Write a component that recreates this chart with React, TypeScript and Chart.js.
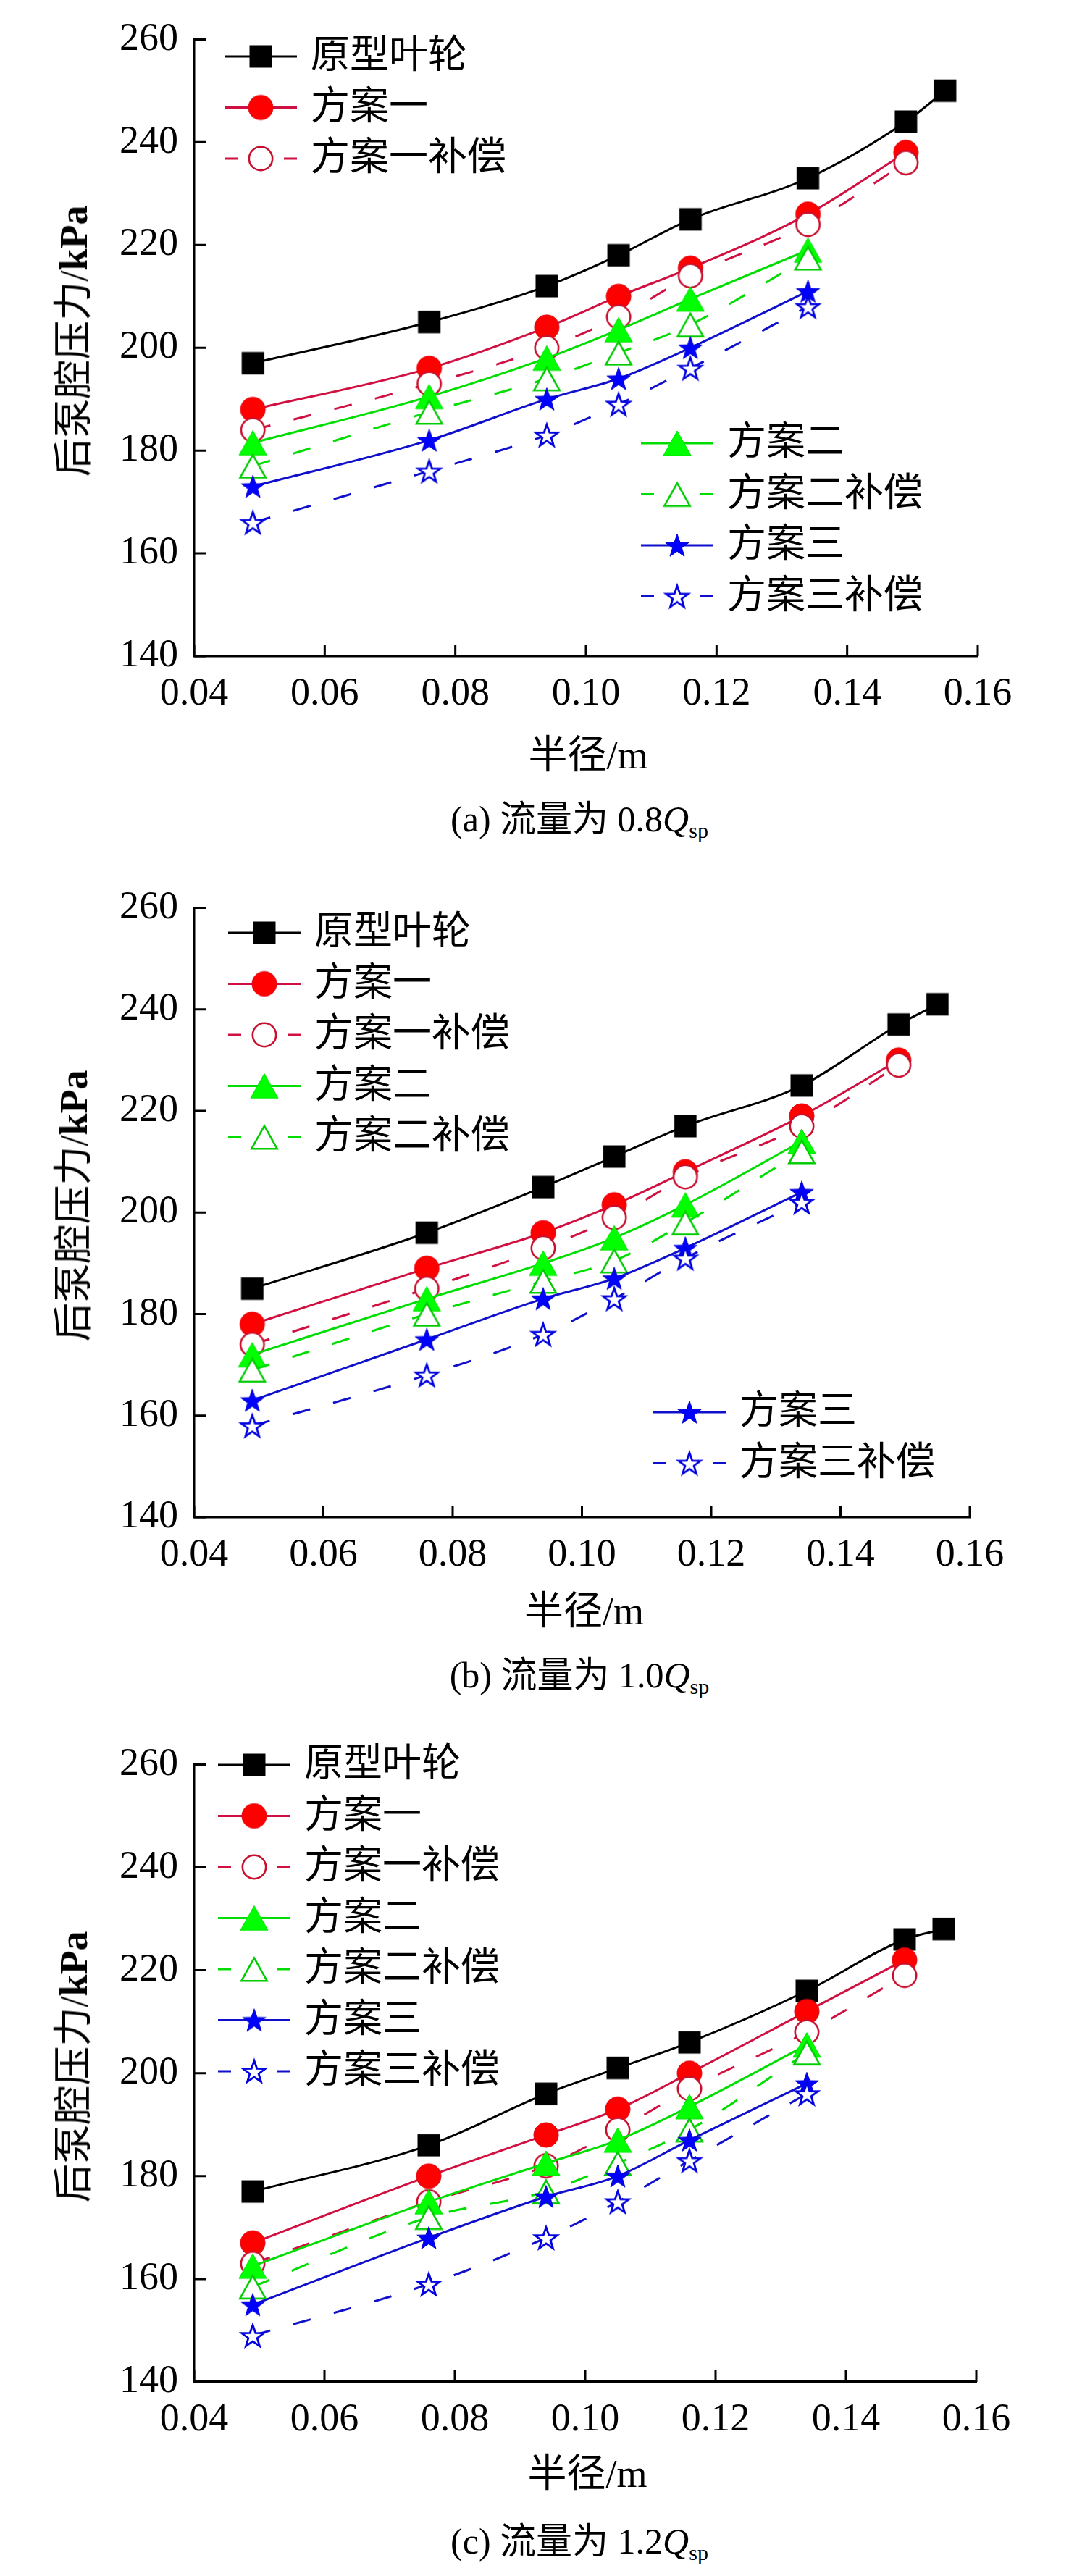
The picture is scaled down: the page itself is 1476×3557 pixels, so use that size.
import { useEffect, useRef } from "react";
import { Chart, registerables, type ChartConfiguration, type Plugin } from "chart.js";

Chart.register(...registerables);

// 半径 (m)，各方案测点
const RADIUS_M = [0.049, 0.076, 0.094, 0.105, 0.116, 0.134, 0.149, 0.155];
const X_TICKS = [0.04, 0.06, 0.08, 0.1, 0.12, 0.14, 0.16];
const Y_TICKS = [140, 160, 180, 200, 220, 240, 260];
const SERIES_NAMES = ["原型叶轮", "方案一", "方案一补偿", "方案二", "方案二补偿", "方案三", "方案三补偿"];

// (a) 0.8Qsp
const A_ORIGINAL = [197, 205, 212, 218, 225, 233, 244, 250];
const A_PLAN1 = [188, 196, 204, 210, 215.5, 226, 238];
const A_PLAN1_COMP = [184, 193, 200, 206, 214, 224, 236];
const A_PLAN2 = [181.5, 190.5, 198, 203.5, 209.5, 219];
const A_PLAN2_COMP = [177, 187.5, 194, 199, 204.5, 217.5];
const A_PLAN3 = [173, 182, 190, 194, 200, 211];
const A_PLAN3_COMP = [166, 176, 183, 189, 196, 208];

// (b) 1.0Qsp
const B_ORIGINAL = [185, 196, 205, 211, 217, 225, 237, 241];
const B_PLAN1 = [178, 189, 196, 201.5, 208, 219, 230];
const B_PLAN1_COMP = [174, 185, 193, 199, 207, 217, 229];
const B_PLAN2 = [172, 183, 190, 195, 201.5, 214];
const B_PLAN2_COMP = [169, 180, 186.5, 190.5, 198, 212];
const B_PLAN3 = [163, 175, 183, 187, 193, 204];
const B_PLAN3_COMP = [158, 168, 176, 183, 191, 202];

// (c) 1.2Qsp
const C_ORIGINAL = [177, 186, 196, 201, 206, 216, 226, 228];
const C_PLAN1 = [167, 180, 188, 193, 200, 212, 222];
const C_PLAN1_COMP = [163, 175, 182, 189, 197, 208, 219];
const C_PLAN2 = [162.5, 175, 182.5, 187, 193.5, 205.5];
const C_PLAN2_COMP = [158.5, 172, 177, 182.5, 189, 204];
const C_PLAN3 = [155, 168, 176, 180, 187, 198];
const C_PLAN3_COMP = [149, 159, 168, 175, 183, 196];

const SERIF = "'Liberation Serif', 'Times New Roman', 'Noto Sans CJK SC', serif";
const W = 1476;
const PLOT_TOP = 34;
const PLOT_LEFT = 268;
const X_AXIS_H = 86;
const ROW_GAP = 70.5;

type Legend = { x: number; y: number; items: number[] };
type Panel = {
  tag: string;
  flow: string;
  series: number[][];
  legends: Legend[];
  // 版面位置
  top: number;
  plotRight: number;
  plotBottom: number;
  xTitleY: number;
  captionY: number;
};

const PANELS: Panel[] = [
  {
    tag: "(a)",
    flow: "0.8",
    series: [A_ORIGINAL, A_PLAN1, A_PLAN1_COMP, A_PLAN2, A_PLAN2_COMP, A_PLAN3, A_PLAN3_COMP],
    legends: [
      { x: 310, y: 78, items: [0, 1, 2] },
      { x: 885, y: 612, items: [3, 4, 5, 6] },
    ],
    top: 0,
    plotRight: 1350,
    plotBottom: 906,
    xTitleY: 1043,
    captionY: 1134,
  },
  {
    tag: "(b)",
    flow: "1.0",
    series: [B_ORIGINAL, B_PLAN1, B_PLAN1_COMP, B_PLAN2, B_PLAN2_COMP, B_PLAN3, B_PLAN3_COMP],
    legends: [
      { x: 315, y: 89, items: [0, 1, 2, 3, 4] },
      { x: 902, y: 751, items: [5, 6] },
    ],
    top: 1199,
    plotRight: 1339,
    plotBottom: 896,
    xTitleY: 1026,
    captionY: 1117,
  },
  {
    tag: "(c)",
    flow: "1.2",
    series: [C_ORIGINAL, C_PLAN1, C_PLAN1_COMP, C_PLAN2, C_PLAN2_COMP, C_PLAN3, C_PLAN3_COMP],
    legends: [{ x: 301, y: 55, items: [0, 1, 2, 3, 4, 5, 6] }],
    top: 2382,
    plotRight: 1348,
    plotBottom: 907,
    xTitleY: 1034,
    captionY: 1130,
  },
];

type MarkerKind = "square" | "circle" | "triangle" | "star";

function makeMarker(kind: MarkerKind, fill: string, stroke: string, lw: number): HTMLCanvasElement {
  const size = 48;
  const c = document.createElement("canvas");
  c.width = size;
  c.height = size;
  const ctx = c.getContext("2d")!;
  ctx.translate(size / 2, size / 2);
  ctx.fillStyle = fill;
  ctx.strokeStyle = stroke;
  ctx.lineWidth = lw;
  ctx.lineJoin = "miter";
  ctx.beginPath();
  const h = lw / 2;
  if (kind === "square") {
    ctx.rect(-15.5 + h, -15.5 + h, 31 - lw, 31 - lw);
  } else if (kind === "circle") {
    ctx.arc(0, 0, 17.5 - h, 0, Math.PI * 2);
  } else if (kind === "triangle") {
    ctx.moveTo(0, -18 + h * 2);
    ctx.lineTo(20 - h * 1.8, 17.5 - h);
    ctx.lineTo(-20 + h * 1.8, 17.5 - h);
    ctx.closePath();
  } else {
    const R = 17.5 - h;
    const r = R * 0.4;
    for (let i = 0; i < 10; i++) {
      const a = -Math.PI / 2 + (i * Math.PI) / 5;
      const rad = i % 2 === 0 ? R : r;
      const px = Math.cos(a) * rad;
      const py = Math.sin(a) * rad + 1.5;
      if (i === 0) ctx.moveTo(px, py);
      else ctx.lineTo(px, py);
    }
    ctx.closePath();
  }
  ctx.fill();
  if (lw > 0) ctx.stroke();
  return c;
}

function buildStyles() {
  return [
    { line: "#000000", dash: [] as number[], marker: makeMarker("square", "#000000", "#000000", 0) },
    { line: "#d01040", dash: [], marker: makeMarker("circle", "#ff0000", "#e00010", 1) },
    { line: "#d01040", dash: [25, 33], marker: makeMarker("circle", "#ffffff", "#c8102e", 2.6) },
    { line: "#00dd00", dash: [], marker: makeMarker("triangle", "#00ff00", "#00e000", 1) },
    { line: "#00dd00", dash: [25, 33], marker: makeMarker("triangle", "#ffffff", "#00cc00", 2.6) },
    { line: "#1010cc", dash: [], marker: makeMarker("star", "#0000ff", "#0000cc", 1) },
    { line: "#1010cc", dash: [25, 33], marker: makeMarker("star", "#ffffff", "#0000e0", 2.8) },
  ];
}

// Origin 风格的朝内刻度
function inwardTicks(): Plugin<"line"> {
  return {
    id: "inwardTicks",
    afterDatasetsDraw(chart) {
      const { ctx, chartArea } = chart;
      const xs = chart.scales.x;
      const ys = chart.scales.y;
      ctx.save();
      ctx.strokeStyle = "#000";
      ctx.lineWidth = 3;
      ctx.beginPath();
      for (const t of xs.ticks) {
        const px = xs.getPixelForValue(t.value);
        ctx.moveTo(px, chartArea.bottom);
        ctx.lineTo(px, chartArea.bottom - 16);
      }
      for (const t of ys.ticks) {
        const py = ys.getPixelForValue(t.value);
        ctx.moveTo(chartArea.left, py);
        ctx.lineTo(chartArea.left + 16, py);
      }
      ctx.stroke();
      ctx.restore();
    },
  };
}

// 图例拆成几组，分别放在图内不同位置
function groupLegend(groups: Legend[]): Plugin<"line"> {
  return {
    id: "groupLegend",
    afterDraw(chart) {
      const ctx = chart.ctx;
      for (const g of groups) {
        g.items.forEach((idx, row) => {
          const ds: any = chart.data.datasets[idx];
          const y = g.y + row * ROW_GAP;
          ctx.save();
          ctx.strokeStyle = ds.borderColor;
          ctx.lineWidth = ds.borderWidth;
          ctx.setLineDash(ds.borderDash && ds.borderDash.length ? [18, 64] : []);
          ctx.beginPath();
          ctx.moveTo(g.x, y);
          ctx.lineTo(g.x + 100, y);
          ctx.stroke();
          ctx.setLineDash([]);
          const img = ds.pointStyle as HTMLCanvasElement;
          ctx.drawImage(img, g.x + 50 - img.width / 2, y - img.height / 2);
          ctx.fillStyle = "#000";
          ctx.font = `54px ${SERIF}`;
          ctx.textBaseline = "middle";
          ctx.fillText(ds.label, g.x + 119, y + 2);
          ctx.restore();
        });
      }
    },
  };
}

function PanelChart({ panel }: { panel: Panel }) {
  const canvasRef = useRef<HTMLCanvasElement>(null);
  const canvasH = panel.plotBottom + X_AXIS_H;

  useEffect(() => {
    if (!canvasRef.current) return;
    const styles = buildStyles();
    const config: ChartConfiguration<"line"> = {
      type: "line",
      data: {
        datasets: panel.series.map((values, i) => ({
          label: SERIES_NAMES[i],
          data: values.map((v, j) => ({ x: RADIUS_M[j], y: v })),
          borderColor: styles[i].line,
          borderWidth: 3,
          borderDash: styles[i].dash,
          pointStyle: styles[i].marker,
          pointRadius: 18,
          cubicInterpolationMode: "monotone" as const,
          fill: false,
          order: 10 - i,
        })),
      },
      options: {
        animation: false,
        responsive: false,
        events: [],
        layout: { padding: { top: PLOT_TOP, left: 0, right: W - panel.plotRight, bottom: 0 } },
        plugins: { legend: { display: false }, tooltip: { enabled: false } },
        scales: {
          x: {
            type: "linear",
            min: 0.04,
            max: 0.16,
            afterBuildTicks: (s) => {
              s.ticks = X_TICKS.map((value) => ({ value }));
            },
            afterFit: (s) => {
              s.height = X_AXIS_H;
            },
            grid: { display: false, drawTicks: false },
            border: { display: true, color: "#000", width: 3.5 },
            ticks: {
              color: "#000",
              padding: 20,
              font: { family: SERIF, size: 54 },
              callback: (v) => Number(v).toFixed(2),
              maxRotation: 0,
              autoSkip: false,
            },
          },
          y: {
            type: "linear",
            min: 140,
            max: 260,
            afterBuildTicks: (s) => {
              s.ticks = Y_TICKS.map((value) => ({ value }));
            },
            afterFit: (s) => {
              s.width = PLOT_LEFT;
            },
            grid: { display: false, drawTicks: false },
            border: { display: true, color: "#000", width: 3.5 },
            ticks: {
              color: "#000",
              padding: 22,
              font: { family: SERIF, size: 54 },
              autoSkip: false,
            },
          },
        },
      },
      plugins: [inwardTicks(), groupLegend(panel.legends)],
    };
    const chart = new Chart(canvasRef.current, config);
    return () => chart.destroy();
  }, [panel]);

  const text: React.CSSProperties = {
    position: "absolute",
    fontFamily: SERIF,
    color: "#000",
    whiteSpace: "nowrap",
    lineHeight: 1,
  };

  return (
    <div style={{ position: "absolute", left: 0, top: panel.top, width: W, height: 1175 }}>
      <canvas ref={canvasRef} width={W} height={canvasH} style={{ position: "absolute", left: 0, top: 0 }} />
      <div
        style={{
          ...text,
          fontSize: 54,
          left: 102,
          top: (PLOT_TOP + panel.plotBottom) / 2 + 1,
          transform: "translate(-50%, -50%) rotate(-90deg)",
        }}
      >
        后泵腔压力/<span style={{ fontWeight: "bold" }}>kPa</span>
      </div>
      <div
        style={{
          ...text,
          fontSize: 54,
          left: (PLOT_LEFT + panel.plotRight) / 2 + 3,
          top: panel.xTitleY,
          transform: "translate(-50%, -50%)",
        }}
      >
        半径/m
      </div>
      <div style={{ ...text, fontSize: 50, left: 800, top: panel.captionY, transform: "translate(-50%, -50%)" }}>
        {panel.tag} 流量为 {panel.flow}
        <i>Q</i>
        <sub style={{ fontSize: "0.6em", verticalAlign: "-0.3em" }}>sp</sub>
      </div>
    </div>
  );
}

export default function App() {
  useEffect(() => {
    document.body.style.margin = "0";
    document.body.style.background = "#ffffff";
  }, []);
  return (
    <div style={{ position: "relative", width: W, height: 3557, background: "#ffffff" }}>
      {PANELS.map((p) => (
        <PanelChart key={p.tag} panel={p} />
      ))}
    </div>
  );
}
